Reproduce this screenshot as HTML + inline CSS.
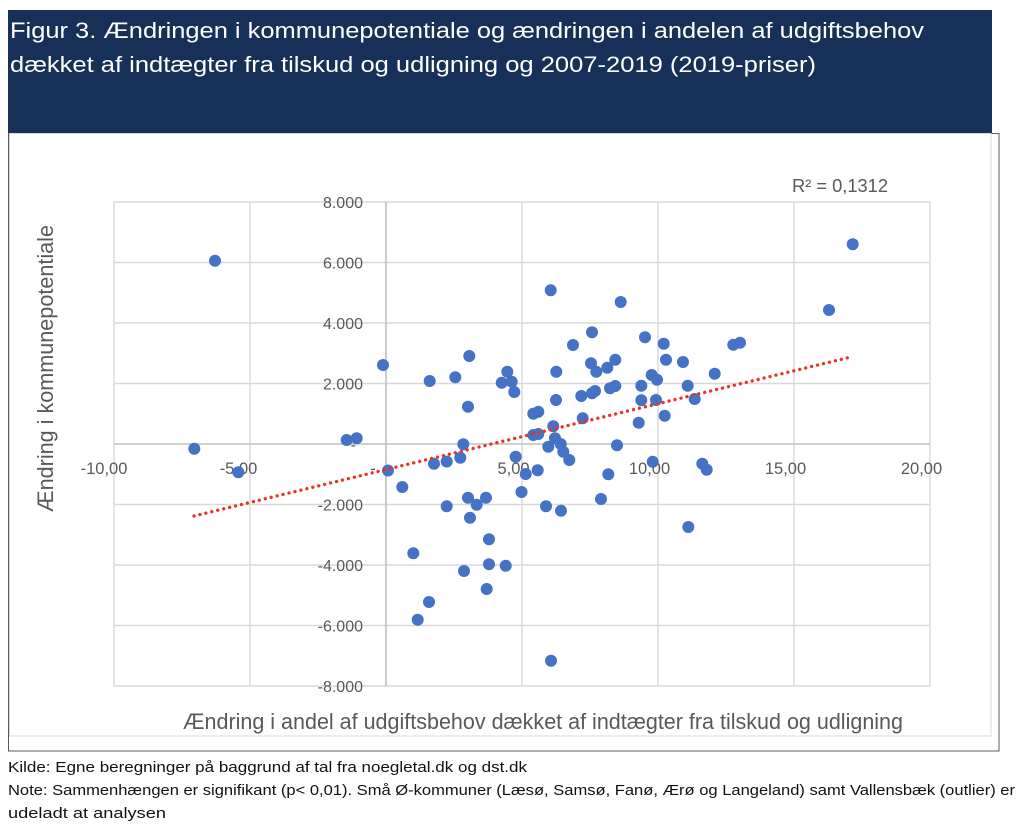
<!DOCTYPE html>
<html><head><meta charset="utf-8"><style>
html,body{margin:0;padding:0;background:#fff;}
svg{display:block;}
text{font-family:"Liberation Sans",sans-serif;}
</style></head><body>
<svg width="1024" height="839" viewBox="0 0 1024 839" xmlns="http://www.w3.org/2000/svg">
<rect x="0" y="0" width="1024" height="839" fill="#fff"/>
<!-- header -->
<rect x="8" y="10" width="984" height="123" fill="#163057"/>
<text x="10" y="38" font-size="22" fill="#fff" textLength="914" lengthAdjust="spacingAndGlyphs">Figur 3. Ændringen i kommunepotentiale og ændringen i andelen af udgiftsbehov</text>
<text x="10" y="72" font-size="22" fill="#fff" textLength="806" lengthAdjust="spacingAndGlyphs">dækket af indtægter fra tilskud og udligning og 2007-2019 (2019-priser)</text>
<!-- frames -->
<rect x="8.5" y="133.5" width="990.5" height="617.5" fill="none" stroke="#5a5a5a" stroke-width="1"/>
<rect x="9.5" y="133.5" width="981.5" height="602.5" fill="#fff" stroke="#d9d9d9" stroke-width="1"/>
<!-- gridlines -->
<g stroke="#d9d9d9" stroke-width="1.4">
<line x1="114" y1="202" x2="930" y2="202"/>
<line x1="114" y1="262.5" x2="930" y2="262.5"/>
<line x1="114" y1="323" x2="930" y2="323"/>
<line x1="114" y1="383.5" x2="930" y2="383.5"/>
<line x1="114" y1="504.5" x2="930" y2="504.5"/>
<line x1="114" y1="565" x2="930" y2="565"/>
<line x1="114" y1="625.5" x2="930" y2="625.5"/>
<line x1="114" y1="686" x2="930" y2="686"/>
<line x1="114" y1="202" x2="114" y2="686"/>
<line x1="250" y1="202" x2="250" y2="686"/>
<line x1="522" y1="202" x2="522" y2="686"/>
<line x1="658" y1="202" x2="658" y2="686"/>
<line x1="794" y1="202" x2="794" y2="686"/>
<line x1="930" y1="202" x2="930" y2="686"/>
</g>
<g stroke="#bfbfbf" stroke-width="1.6">
<line x1="114" y1="444" x2="930" y2="444"/>
<line x1="386" y1="202" x2="386" y2="686"/>
</g>
<!-- y tick labels -->
<g font-size="16" fill="#595959" text-anchor="end">
<text x="363" y="208">8.000</text>
<text x="363" y="268.5">6.000</text>
<text x="363" y="329">4.000</text>
<text x="363" y="389.5">2.000</text>
<text x="356" y="450">-</text>
<text x="363" y="510.5">-2.000</text>
<text x="363" y="571">-4.000</text>
<text x="363" y="631.5">-6.000</text>
<text x="363" y="692">-8.000</text>
</g>
<!-- x tick labels -->
<g font-size="16.5" fill="#595959" text-anchor="middle">
<text x="104" y="474">-10,00</text>
<text x="238.5" y="474">-5,00</text>
<text x="373" y="474">-</text>
<text x="513.5" y="474">5,00</text>
<text x="649.5" y="474">10,00</text>
<text x="785.5" y="474">15,00</text>
<text x="921.5" y="474">20,00</text>
</g>
<!-- axis titles -->
<text x="183" y="729" font-size="22" fill="#595959" textLength="720" lengthAdjust="spacingAndGlyphs">Ændring i andel af udgiftsbehov dækket af indtægter fra tilskud og udligning</text>
<text transform="translate(53,512) rotate(-90)" x="0" y="0" font-size="22" fill="#595959" textLength="287" lengthAdjust="spacingAndGlyphs">Ændring i kommunepotentiale</text>
<!-- R2 -->
<text x="792" y="192" font-size="18" fill="#595959" textLength="96" lengthAdjust="spacingAndGlyphs">R² = 0,1312</text>
<!-- points -->
<g fill="#4472c4">
<circle cx="215" cy="260.7" r="6"/>
<circle cx="194.3" cy="448.8" r="6"/>
<circle cx="238.3" cy="472.3" r="6"/>
<circle cx="346.7" cy="440" r="6"/>
<circle cx="356.7" cy="438.3" r="6"/>
<circle cx="383" cy="365" r="6"/>
<circle cx="388" cy="470.5" r="6"/>
<circle cx="402.3" cy="487" r="6"/>
<circle cx="413.3" cy="553.3" r="6"/>
<circle cx="417.7" cy="619.7" r="6"/>
<circle cx="429" cy="602" r="6"/>
<circle cx="429.7" cy="381" r="6"/>
<circle cx="434" cy="463.8" r="6"/>
<circle cx="446.7" cy="461.5" r="6"/>
<circle cx="446.7" cy="506.3" r="6"/>
<circle cx="455.3" cy="377.3" r="6"/>
<circle cx="460.3" cy="457.7" r="6"/>
<circle cx="463.3" cy="444.3" r="6"/>
<circle cx="464" cy="571" r="6"/>
<circle cx="468" cy="406.7" r="6"/>
<circle cx="469.3" cy="356" r="6"/>
<circle cx="468" cy="497.7" r="6"/>
<circle cx="470" cy="517.7" r="6"/>
<circle cx="476.7" cy="504.7" r="6"/>
<circle cx="486" cy="497.7" r="6"/>
<circle cx="489" cy="539.3" r="6"/>
<circle cx="489" cy="564.3" r="6"/>
<circle cx="486.7" cy="589" r="6"/>
<circle cx="505.7" cy="565.7" r="6"/>
<circle cx="501.7" cy="382.7" r="6"/>
<circle cx="507.3" cy="371.7" r="6"/>
<circle cx="511.7" cy="381.7" r="6"/>
<circle cx="514.3" cy="392" r="6"/>
<circle cx="515.7" cy="456.7" r="6"/>
<circle cx="521.5" cy="492" r="6"/>
<circle cx="525.7" cy="474" r="6"/>
<circle cx="533.3" cy="435" r="6"/>
<circle cx="538.3" cy="434" r="6"/>
<circle cx="533.3" cy="413.7" r="6"/>
<circle cx="538.3" cy="411.7" r="6"/>
<circle cx="537.7" cy="470.3" r="6"/>
<circle cx="546" cy="506.3" r="6"/>
<circle cx="548.3" cy="446.7" r="6"/>
<circle cx="550.7" cy="290.3" r="6"/>
<circle cx="551" cy="660.7" r="6"/>
<circle cx="553.3" cy="426.3" r="6"/>
<circle cx="555" cy="438.3" r="6"/>
<circle cx="556" cy="400" r="6"/>
<circle cx="556.3" cy="371.7" r="6"/>
<circle cx="560.7" cy="444" r="6"/>
<circle cx="561" cy="510.7" r="6"/>
<circle cx="563.3" cy="451.7" r="6"/>
<circle cx="569.3" cy="460" r="6"/>
<circle cx="573" cy="345" r="6"/>
<circle cx="581.3" cy="396" r="6"/>
<circle cx="582.7" cy="418.3" r="6"/>
<circle cx="591" cy="363.3" r="6"/>
<circle cx="592" cy="332.3" r="6"/>
<circle cx="592" cy="393.3" r="6"/>
<circle cx="595" cy="391" r="6"/>
<circle cx="596.3" cy="371.7" r="6"/>
<circle cx="601" cy="499" r="6"/>
<circle cx="607.3" cy="367.7" r="6"/>
<circle cx="608.3" cy="474.3" r="6"/>
<circle cx="610" cy="388.3" r="6"/>
<circle cx="615.3" cy="386" r="6"/>
<circle cx="615.3" cy="359.7" r="6"/>
<circle cx="617" cy="445.3" r="6"/>
<circle cx="620.7" cy="302" r="6"/>
<circle cx="638.7" cy="422.7" r="6"/>
<circle cx="641.3" cy="385.7" r="6"/>
<circle cx="641.3" cy="400.3" r="6"/>
<circle cx="645" cy="337.3" r="6"/>
<circle cx="651.7" cy="375" r="6"/>
<circle cx="652.7" cy="461.7" r="6"/>
<circle cx="656" cy="400" r="6"/>
<circle cx="657" cy="379.7" r="6"/>
<circle cx="663.7" cy="343.7" r="6"/>
<circle cx="664.7" cy="415.7" r="6"/>
<circle cx="666" cy="359.7" r="6"/>
<circle cx="683" cy="362" r="6"/>
<circle cx="687.7" cy="385.7" r="6"/>
<circle cx="688.3" cy="527" r="6"/>
<circle cx="694.7" cy="399" r="6"/>
<circle cx="702.3" cy="463.7" r="6"/>
<circle cx="706.7" cy="469.7" r="6"/>
<circle cx="714.7" cy="373.7" r="6"/>
<circle cx="733.3" cy="344.7" r="6"/>
<circle cx="740" cy="342.7" r="6"/>
<circle cx="829" cy="310" r="6"/>
<circle cx="852.7" cy="244.3" r="6"/>
</g>
<!-- trendline -->
<line x1="194" y1="516" x2="851" y2="357" stroke="#ee3124" stroke-width="3.4" stroke-linecap="round" stroke-dasharray="0.01 6.1"/>
<!-- footer -->
<g font-size="15" fill="#111">
<text x="8" y="772" textLength="519" lengthAdjust="spacingAndGlyphs">Kilde:  Egne beregninger på baggrund af tal fra noegletal.dk og dst.dk</text>
<text x="8" y="795" textLength="1007" lengthAdjust="spacingAndGlyphs">Note: Sammenhængen er signifikant (p&lt; 0,01). Små Ø-kommuner (Læsø, Samsø, Fanø, Ærø og Langeland) samt Vallensbæk (outlier) er</text>
<text x="8" y="818" textLength="158" lengthAdjust="spacingAndGlyphs">udeladt at analysen</text>
</g>
</svg>
</body></html>
